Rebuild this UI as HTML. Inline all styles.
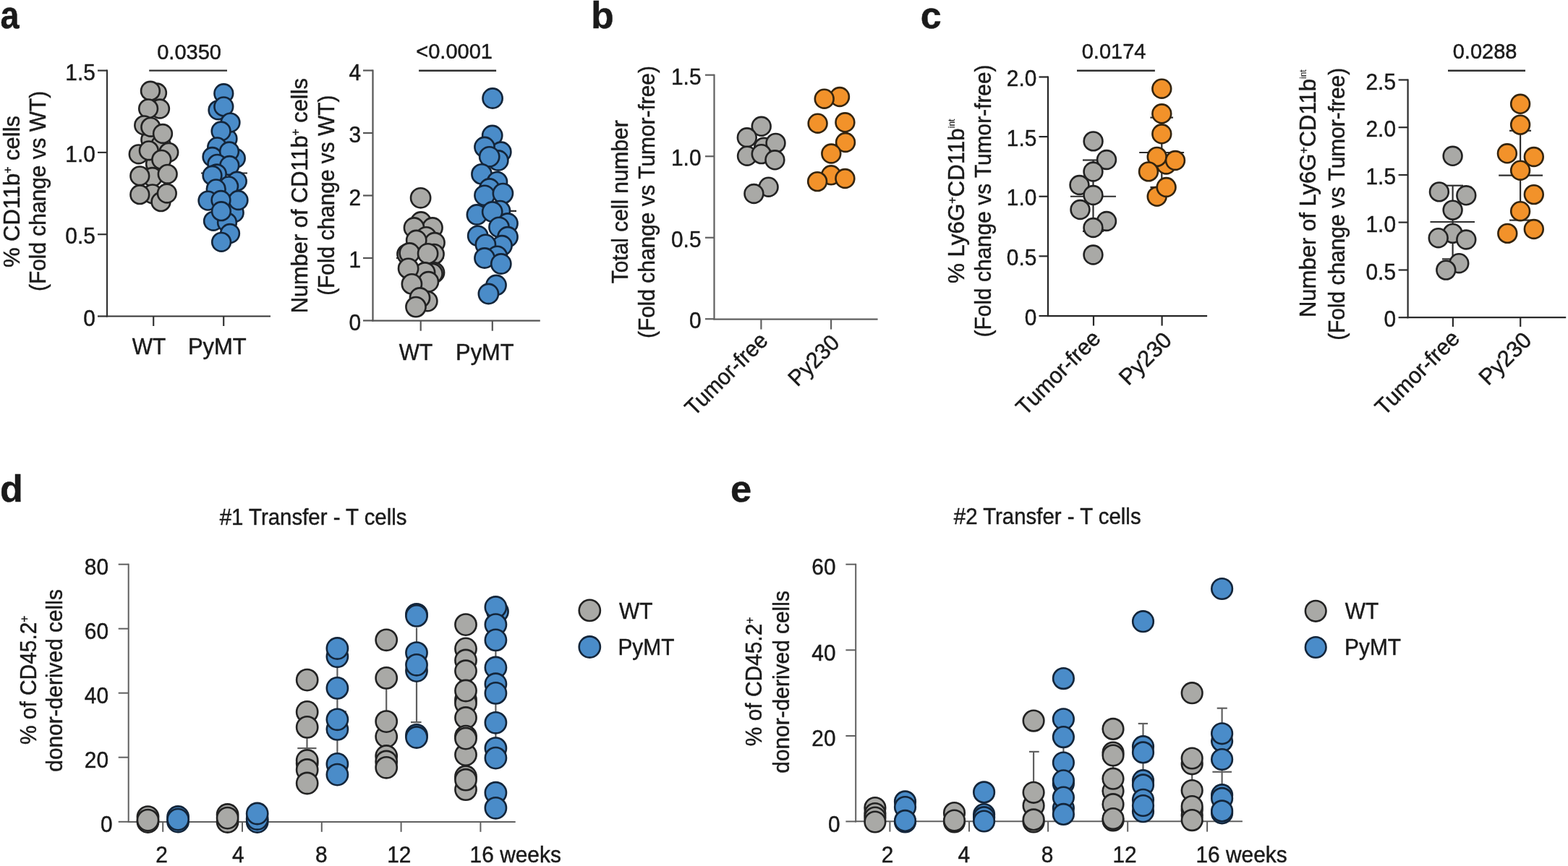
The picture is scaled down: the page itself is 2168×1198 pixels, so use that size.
<!DOCTYPE html>
<html><head><meta charset="utf-8"><title>Figure</title>
<style>
html,body{margin:0;padding:0;background:#fff;}
body{width:2168px;height:1198px;overflow:hidden;}
svg{display:block;}
text{font-family:"Liberation Sans", Arial, Helvetica, sans-serif;fill:#1a1a1a;stroke:#1a1a1a;stroke-width:0.45px;}
</style></head>
<body>
<svg width="2168" height="1198" viewBox="0 0 2168 1198">
<rect width="2168" height="1198" fill="#ffffff"/>
<text transform="translate(0.60,39.20) scale(0.92,1.0)" text-anchor="start" font-size="51" font-weight="bold">a</text>
<text transform="translate(817.30,39.00)" text-anchor="start" font-size="51.5" font-weight="bold">b</text>
<text transform="translate(1272.70,39.30)" text-anchor="start" font-size="52" font-weight="bold">c</text>
<text transform="translate(-0.10,694.40)" text-anchor="start" font-size="52" font-weight="bold">d</text>
<text transform="translate(1009.90,694.40)" text-anchor="start" font-size="52.5" font-weight="bold">e</text>
<line x1="148.00" y1="96.50" x2="148.00" y2="438.60" stroke="#333333" stroke-width="2.2"/>
<line x1="135.00" y1="97.60" x2="148.00" y2="97.60" stroke="#333333" stroke-width="2.2"/>
<text transform="translate(131.80,110.60) scale(0.955,1.0)" text-anchor="end" font-size="31.3">1.5</text>
<line x1="135.00" y1="210.90" x2="148.00" y2="210.90" stroke="#333333" stroke-width="2.2"/>
<text transform="translate(131.80,223.90) scale(0.955,1.0)" text-anchor="end" font-size="31.3">1.0</text>
<line x1="135.00" y1="324.20" x2="148.00" y2="324.20" stroke="#333333" stroke-width="2.2"/>
<text transform="translate(131.80,337.20) scale(0.955,1.0)" text-anchor="end" font-size="31.3">0.5</text>
<line x1="135.00" y1="437.50" x2="148.00" y2="437.50" stroke="#333333" stroke-width="2.2"/>
<text transform="translate(131.80,450.50) scale(0.955,1.0)" text-anchor="end" font-size="31.3">0</text>
<line x1="146.90" y1="437.50" x2="374.00" y2="437.50" stroke="#333333" stroke-width="2.2"/>
<line x1="212.20" y1="437.50" x2="212.20" y2="451.00" stroke="#333333" stroke-width="2.2"/>
<line x1="309.20" y1="437.50" x2="309.20" y2="451.00" stroke="#333333" stroke-width="2.2"/>
<text transform="translate(205.90,490.00) scale(0.955,1.0)" text-anchor="middle" font-size="31.3">WT</text>
<text transform="translate(300.30,490.00) scale(0.99,1.0)" text-anchor="middle" font-size="31.3">PyMT</text>
<line x1="206.20" y1="97.60" x2="314.00" y2="97.60" stroke="#2e2e2e" stroke-width="2.4"/>
<text transform="translate(261.60,81.70) scale(0.975,1.0)" text-anchor="middle" font-size="29.8">0.0350</text>
<text transform="translate(27.00,265.00) rotate(-90) scale(0.99,1.0)" text-anchor="middle" font-size="31.3">% CD11b<tspan font-size="16" dy="-11.3">+</tspan><tspan dy="11.3"> cells</tspan></text>
<text transform="translate(63.10,264.40) rotate(-90) scale(0.955,1.0)" text-anchor="middle" font-size="31.3">(Fold change vs WT)</text>
<line x1="183.00" y1="210.90" x2="242.00" y2="210.90" stroke="#2e2e2e" stroke-width="2.2"/>
<circle cx="208.3" cy="193.3" r="12.85" fill="#a9a9a6" stroke="#222222" stroke-width="2.6"/>
<circle cx="222.5" cy="200.0" r="12.85" fill="#a9a9a6" stroke="#222222" stroke-width="2.6"/>
<circle cx="215.0" cy="226.7" r="12.85" fill="#a9a9a6" stroke="#222222" stroke-width="2.6"/>
<circle cx="210.8" cy="245.0" r="12.85" fill="#a9a9a6" stroke="#222222" stroke-width="2.6"/>
<circle cx="210.8" cy="268.3" r="12.85" fill="#a9a9a6" stroke="#222222" stroke-width="2.6"/>
<circle cx="222.5" cy="279.2" r="12.85" fill="#a9a9a6" stroke="#222222" stroke-width="2.6"/>
<circle cx="217.0" cy="128.5" r="12.85" fill="#a9a9a6" stroke="#222222" stroke-width="2.6"/>
<circle cx="207.9" cy="125.7" r="12.85" fill="#a9a9a6" stroke="#222222" stroke-width="2.6"/>
<circle cx="221.0" cy="150.5" r="12.85" fill="#a9a9a6" stroke="#222222" stroke-width="2.6"/>
<circle cx="205.1" cy="150.3" r="12.85" fill="#a9a9a6" stroke="#222222" stroke-width="2.6"/>
<circle cx="199.2" cy="173.3" r="12.85" fill="#a9a9a6" stroke="#222222" stroke-width="2.6"/>
<circle cx="208.3" cy="175.8" r="12.85" fill="#a9a9a6" stroke="#222222" stroke-width="2.6"/>
<circle cx="225.0" cy="185.0" r="12.85" fill="#a9a9a6" stroke="#222222" stroke-width="2.6"/>
<circle cx="191.7" cy="213.3" r="12.85" fill="#a9a9a6" stroke="#222222" stroke-width="2.6"/>
<circle cx="205.8" cy="208.3" r="12.85" fill="#a9a9a6" stroke="#222222" stroke-width="2.6"/>
<circle cx="233.3" cy="210.8" r="12.85" fill="#a9a9a6" stroke="#222222" stroke-width="2.6"/>
<circle cx="223.3" cy="220.8" r="12.85" fill="#a9a9a6" stroke="#222222" stroke-width="2.6"/>
<circle cx="193.3" cy="243.3" r="12.85" fill="#a9a9a6" stroke="#222222" stroke-width="2.6"/>
<circle cx="231.7" cy="240.8" r="12.85" fill="#a9a9a6" stroke="#222222" stroke-width="2.6"/>
<circle cx="193.3" cy="269.2" r="12.85" fill="#a9a9a6" stroke="#222222" stroke-width="2.6"/>
<circle cx="230.8" cy="267.5" r="12.85" fill="#a9a9a6" stroke="#222222" stroke-width="2.6"/>
<line x1="278.00" y1="239.50" x2="342.00" y2="239.50" stroke="#2e2e2e" stroke-width="2.2"/>
<circle cx="314.5" cy="192.0" r="12.85" fill="#4a8cc9" stroke="#13253a" stroke-width="2.6"/>
<circle cx="325.8" cy="219.0" r="12.85" fill="#4a8cc9" stroke="#13253a" stroke-width="2.6"/>
<circle cx="323.7" cy="294.3" r="12.85" fill="#4a8cc9" stroke="#13253a" stroke-width="2.6"/>
<circle cx="309.3" cy="129.2" r="12.85" fill="#4a8cc9" stroke="#13253a" stroke-width="2.6"/>
<circle cx="301.5" cy="152.3" r="12.85" fill="#4a8cc9" stroke="#13253a" stroke-width="2.6"/>
<circle cx="309.3" cy="147.4" r="12.85" fill="#4a8cc9" stroke="#13253a" stroke-width="2.6"/>
<circle cx="318.5" cy="169.6" r="12.85" fill="#4a8cc9" stroke="#13253a" stroke-width="2.6"/>
<circle cx="305.6" cy="181.5" r="12.85" fill="#4a8cc9" stroke="#13253a" stroke-width="2.6"/>
<circle cx="300.2" cy="203.4" r="12.85" fill="#4a8cc9" stroke="#13253a" stroke-width="2.6"/>
<circle cx="293.5" cy="217.0" r="12.85" fill="#4a8cc9" stroke="#13253a" stroke-width="2.6"/>
<circle cx="317.0" cy="209.5" r="12.85" fill="#4a8cc9" stroke="#13253a" stroke-width="2.6"/>
<circle cx="300.4" cy="226.8" r="12.85" fill="#4a8cc9" stroke="#13253a" stroke-width="2.6"/>
<circle cx="317.3" cy="229.0" r="12.85" fill="#4a8cc9" stroke="#13253a" stroke-width="2.6"/>
<circle cx="299.8" cy="240.5" r="12.85" fill="#4a8cc9" stroke="#13253a" stroke-width="2.6"/>
<circle cx="293.5" cy="242.7" r="12.85" fill="#4a8cc9" stroke="#13253a" stroke-width="2.6"/>
<circle cx="327.8" cy="250.7" r="12.85" fill="#4a8cc9" stroke="#13253a" stroke-width="2.6"/>
<circle cx="316.1" cy="257.4" r="12.85" fill="#4a8cc9" stroke="#13253a" stroke-width="2.6"/>
<circle cx="298.7" cy="261.4" r="12.85" fill="#4a8cc9" stroke="#13253a" stroke-width="2.6"/>
<circle cx="287.5" cy="277.6" r="12.85" fill="#4a8cc9" stroke="#13253a" stroke-width="2.6"/>
<circle cx="329.5" cy="277.0" r="12.85" fill="#4a8cc9" stroke="#13253a" stroke-width="2.6"/>
<circle cx="305.5" cy="277.0" r="12.85" fill="#4a8cc9" stroke="#13253a" stroke-width="2.6"/>
<circle cx="295.0" cy="305.8" r="12.85" fill="#4a8cc9" stroke="#13253a" stroke-width="2.6"/>
<circle cx="314.0" cy="307.7" r="12.85" fill="#4a8cc9" stroke="#13253a" stroke-width="2.6"/>
<circle cx="305.9" cy="292.2" r="12.85" fill="#4a8cc9" stroke="#13253a" stroke-width="2.6"/>
<circle cx="318.0" cy="323.0" r="12.85" fill="#4a8cc9" stroke="#13253a" stroke-width="2.6"/>
<circle cx="306.1" cy="334.8" r="12.85" fill="#4a8cc9" stroke="#13253a" stroke-width="2.6"/>
<line x1="515.50" y1="96.40" x2="515.50" y2="444.60" stroke="#555555" stroke-width="2.2"/>
<line x1="502.00" y1="97.50" x2="515.50" y2="97.50" stroke="#555555" stroke-width="2.2"/>
<text transform="translate(499.10,110.50) scale(0.955,1.0)" text-anchor="end" font-size="31.3">4</text>
<line x1="502.00" y1="184.00" x2="515.50" y2="184.00" stroke="#555555" stroke-width="2.2"/>
<text transform="translate(499.10,197.00) scale(0.955,1.0)" text-anchor="end" font-size="31.3">3</text>
<line x1="502.00" y1="270.50" x2="515.50" y2="270.50" stroke="#555555" stroke-width="2.2"/>
<text transform="translate(499.10,283.50) scale(0.955,1.0)" text-anchor="end" font-size="31.3">2</text>
<line x1="502.00" y1="357.00" x2="515.50" y2="357.00" stroke="#555555" stroke-width="2.2"/>
<text transform="translate(499.10,370.00) scale(0.955,1.0)" text-anchor="end" font-size="31.3">1</text>
<line x1="502.00" y1="443.50" x2="515.50" y2="443.50" stroke="#555555" stroke-width="2.2"/>
<text transform="translate(499.10,456.50) scale(0.955,1.0)" text-anchor="end" font-size="31.3">0</text>
<line x1="514.40" y1="443.70" x2="746.80" y2="443.70" stroke="#555555" stroke-width="2.2"/>
<line x1="581.70" y1="443.70" x2="581.70" y2="457.70" stroke="#555555" stroke-width="2.2"/>
<line x1="680.80" y1="443.70" x2="680.80" y2="457.70" stroke="#555555" stroke-width="2.2"/>
<text transform="translate(575.00,498.40) scale(0.955,1.0)" text-anchor="middle" font-size="31.3">WT</text>
<text transform="translate(670.30,498.40) scale(0.985,1.0)" text-anchor="middle" font-size="31.3">PyMT</text>
<line x1="579.10" y1="97.70" x2="686.10" y2="97.70" stroke="#2e2e2e" stroke-width="2.4"/>
<text transform="translate(628.10,81.20) scale(0.975,1.0)" text-anchor="middle" font-size="29.8">&lt;0.0001</text>
<text transform="translate(425.40,270.70) rotate(-90) scale(0.984,1.0)" text-anchor="middle" font-size="31.3">Number of CD11b<tspan font-size="16" dy="-11.3">+</tspan><tspan dy="11.3"> cells</tspan></text>
<text transform="translate(461.80,270.20) rotate(-90) scale(0.955,1.0)" text-anchor="middle" font-size="31.3">(Fold change vs WT)</text>
<line x1="548.00" y1="357.00" x2="614.00" y2="357.00" stroke="#2e2e2e" stroke-width="2.2"/>
<circle cx="581.6" cy="273.8" r="13.6" fill="#a9a9a6" stroke="#222222" stroke-width="2.6"/>
<circle cx="582.0" cy="307.0" r="13.6" fill="#a9a9a6" stroke="#222222" stroke-width="2.6"/>
<circle cx="598.0" cy="315.0" r="13.6" fill="#a9a9a6" stroke="#222222" stroke-width="2.6"/>
<circle cx="572.5" cy="315.0" r="13.6" fill="#a9a9a6" stroke="#222222" stroke-width="2.6"/>
<circle cx="589.2" cy="327.8" r="13.6" fill="#a9a9a6" stroke="#222222" stroke-width="2.6"/>
<circle cx="601.0" cy="335.7" r="13.6" fill="#a9a9a6" stroke="#222222" stroke-width="2.6"/>
<circle cx="575.7" cy="332.5" r="13.6" fill="#a9a9a6" stroke="#222222" stroke-width="2.6"/>
<circle cx="563.0" cy="351.6" r="13.6" fill="#a9a9a6" stroke="#222222" stroke-width="2.6"/>
<circle cx="566.2" cy="350.0" r="13.6" fill="#a9a9a6" stroke="#222222" stroke-width="2.6"/>
<circle cx="600.0" cy="351.6" r="13.6" fill="#a9a9a6" stroke="#222222" stroke-width="2.6"/>
<circle cx="591.6" cy="350.8" r="13.6" fill="#a9a9a6" stroke="#222222" stroke-width="2.6"/>
<circle cx="600.5" cy="377.0" r="13.6" fill="#a9a9a6" stroke="#222222" stroke-width="2.6"/>
<circle cx="598.0" cy="378.6" r="13.6" fill="#a9a9a6" stroke="#222222" stroke-width="2.6"/>
<circle cx="587.6" cy="377.0" r="13.6" fill="#a9a9a6" stroke="#222222" stroke-width="2.6"/>
<circle cx="564.6" cy="371.4" r="13.6" fill="#a9a9a6" stroke="#222222" stroke-width="2.6"/>
<circle cx="592.4" cy="389.7" r="13.6" fill="#a9a9a6" stroke="#222222" stroke-width="2.6"/>
<circle cx="569.4" cy="392.9" r="13.6" fill="#a9a9a6" stroke="#222222" stroke-width="2.6"/>
<circle cx="590.8" cy="416.7" r="13.6" fill="#a9a9a6" stroke="#222222" stroke-width="2.6"/>
<circle cx="580.5" cy="412.0" r="13.6" fill="#a9a9a6" stroke="#222222" stroke-width="2.6"/>
<circle cx="575.0" cy="424.6" r="13.6" fill="#a9a9a6" stroke="#222222" stroke-width="2.6"/>
<line x1="648.00" y1="291.80" x2="714.00" y2="291.80" stroke="#2e2e2e" stroke-width="2.2"/>
<circle cx="681.1" cy="136.0" r="13.6" fill="#4a8cc9" stroke="#13253a" stroke-width="2.6"/>
<circle cx="680.7" cy="187.5" r="13.6" fill="#4a8cc9" stroke="#13253a" stroke-width="2.6"/>
<circle cx="692.8" cy="210.2" r="13.6" fill="#4a8cc9" stroke="#13253a" stroke-width="2.6"/>
<circle cx="670.0" cy="203.5" r="13.6" fill="#4a8cc9" stroke="#13253a" stroke-width="2.6"/>
<circle cx="688.8" cy="222.0" r="13.6" fill="#4a8cc9" stroke="#13253a" stroke-width="2.6"/>
<circle cx="676.7" cy="216.8" r="13.6" fill="#4a8cc9" stroke="#13253a" stroke-width="2.6"/>
<circle cx="666.0" cy="240.9" r="13.6" fill="#4a8cc9" stroke="#13253a" stroke-width="2.6"/>
<circle cx="687.4" cy="251.6" r="13.6" fill="#4a8cc9" stroke="#13253a" stroke-width="2.6"/>
<circle cx="676.7" cy="261.0" r="13.6" fill="#4a8cc9" stroke="#13253a" stroke-width="2.6"/>
<circle cx="670.0" cy="270.3" r="13.6" fill="#4a8cc9" stroke="#13253a" stroke-width="2.6"/>
<circle cx="695.4" cy="267.6" r="13.6" fill="#4a8cc9" stroke="#13253a" stroke-width="2.6"/>
<circle cx="691.4" cy="291.6" r="13.6" fill="#4a8cc9" stroke="#13253a" stroke-width="2.6"/>
<circle cx="659.4" cy="297.0" r="13.6" fill="#4a8cc9" stroke="#13253a" stroke-width="2.6"/>
<circle cx="680.7" cy="293.0" r="13.6" fill="#4a8cc9" stroke="#13253a" stroke-width="2.6"/>
<circle cx="702.0" cy="309.0" r="13.6" fill="#4a8cc9" stroke="#13253a" stroke-width="2.6"/>
<circle cx="690.0" cy="314.3" r="13.6" fill="#4a8cc9" stroke="#13253a" stroke-width="2.6"/>
<circle cx="702.0" cy="327.7" r="13.6" fill="#4a8cc9" stroke="#13253a" stroke-width="2.6"/>
<circle cx="660.7" cy="326.3" r="13.6" fill="#4a8cc9" stroke="#13253a" stroke-width="2.6"/>
<circle cx="694.0" cy="339.7" r="13.6" fill="#4a8cc9" stroke="#13253a" stroke-width="2.6"/>
<circle cx="671.4" cy="338.4" r="13.6" fill="#4a8cc9" stroke="#13253a" stroke-width="2.6"/>
<circle cx="687.4" cy="354.4" r="13.6" fill="#4a8cc9" stroke="#13253a" stroke-width="2.6"/>
<circle cx="670.0" cy="357.0" r="13.6" fill="#4a8cc9" stroke="#13253a" stroke-width="2.6"/>
<circle cx="692.8" cy="365.0" r="13.6" fill="#4a8cc9" stroke="#13253a" stroke-width="2.6"/>
<circle cx="686.0" cy="394.5" r="13.6" fill="#4a8cc9" stroke="#13253a" stroke-width="2.6"/>
<circle cx="675.4" cy="406.5" r="13.6" fill="#4a8cc9" stroke="#13253a" stroke-width="2.6"/>
<line x1="987.50" y1="102.65" x2="987.50" y2="442.35" stroke="#606060" stroke-width="2.2"/>
<line x1="975.00" y1="103.75" x2="987.50" y2="103.75" stroke="#606060" stroke-width="2.2"/>
<text transform="translate(969.50,116.65) scale(0.955,1.0)" text-anchor="end" font-size="31.3">1.5</text>
<line x1="975.00" y1="216.25" x2="987.50" y2="216.25" stroke="#606060" stroke-width="2.2"/>
<text transform="translate(969.50,229.15) scale(0.955,1.0)" text-anchor="end" font-size="31.3">1.0</text>
<line x1="975.00" y1="328.75" x2="987.50" y2="328.75" stroke="#606060" stroke-width="2.2"/>
<text transform="translate(969.50,341.65) scale(0.955,1.0)" text-anchor="end" font-size="31.3">0.5</text>
<line x1="975.00" y1="441.25" x2="987.50" y2="441.25" stroke="#606060" stroke-width="2.2"/>
<text transform="translate(969.50,454.15) scale(0.955,1.0)" text-anchor="end" font-size="31.3">0</text>
<line x1="986.40" y1="441.60" x2="1213.60" y2="441.60" stroke="#606060" stroke-width="2.2"/>
<line x1="1052.40" y1="441.60" x2="1052.40" y2="455.60" stroke="#606060" stroke-width="2.2"/>
<line x1="1149.10" y1="441.60" x2="1149.10" y2="455.60" stroke="#606060" stroke-width="2.2"/>
<text transform="translate(1063.50,473.00) rotate(-45) scale(0.955,1.0)" text-anchor="end" font-size="31.3">Tumor-free</text>
<text transform="translate(1162.50,476.00) rotate(-45) scale(0.955,1.0)" text-anchor="end" font-size="31.3">Py230</text>
<text transform="translate(868.40,279.30) rotate(-90) scale(0.955,1.0)" text-anchor="middle" font-size="31.3">Total cell number</text>
<text transform="translate(904.70,279.55) rotate(-90) scale(0.955,1.0)" text-anchor="middle" font-size="31.3">(Fold change vs Tumor-free)</text>
<circle cx="1056.2" cy="203.8" r="12.9" fill="#a9a9a6" stroke="#222222" stroke-width="2.6"/>
<circle cx="1052.7" cy="174.8" r="12.9" fill="#a9a9a6" stroke="#222222" stroke-width="2.6"/>
<circle cx="1032.8" cy="190.3" r="12.9" fill="#a9a9a6" stroke="#222222" stroke-width="2.6"/>
<circle cx="1072.5" cy="197.9" r="12.9" fill="#a9a9a6" stroke="#222222" stroke-width="2.6"/>
<circle cx="1033.0" cy="215.7" r="12.9" fill="#a9a9a6" stroke="#222222" stroke-width="2.6"/>
<circle cx="1052.7" cy="213.1" r="12.9" fill="#a9a9a6" stroke="#222222" stroke-width="2.6"/>
<circle cx="1071.4" cy="221.3" r="12.9" fill="#a9a9a6" stroke="#222222" stroke-width="2.6"/>
<circle cx="1062.6" cy="258.7" r="12.9" fill="#a9a9a6" stroke="#222222" stroke-width="2.6"/>
<circle cx="1042.4" cy="268.0" r="12.9" fill="#a9a9a6" stroke="#222222" stroke-width="2.6"/>
<circle cx="1161.0" cy="134.0" r="12.9" fill="#f2922a" stroke="#33240f" stroke-width="2.6"/>
<circle cx="1139.7" cy="136.7" r="12.9" fill="#f2922a" stroke="#33240f" stroke-width="2.6"/>
<circle cx="1130.6" cy="170.7" r="12.9" fill="#f2922a" stroke="#33240f" stroke-width="2.6"/>
<circle cx="1168.4" cy="169.3" r="12.9" fill="#f2922a" stroke="#33240f" stroke-width="2.6"/>
<circle cx="1169.0" cy="197.0" r="12.9" fill="#f2922a" stroke="#33240f" stroke-width="2.6"/>
<circle cx="1149.1" cy="242.3" r="12.9" fill="#f2922a" stroke="#33240f" stroke-width="2.6"/>
<circle cx="1149.3" cy="212.5" r="12.9" fill="#f2922a" stroke="#33240f" stroke-width="2.6"/>
<circle cx="1130.1" cy="251.1" r="12.9" fill="#f2922a" stroke="#33240f" stroke-width="2.6"/>
<circle cx="1168.4" cy="247.0" r="12.9" fill="#f2922a" stroke="#33240f" stroke-width="2.6"/>
<line x1="1449.00" y1="105.40" x2="1449.00" y2="438.10" stroke="#262626" stroke-width="2.2"/>
<line x1="1436.50" y1="106.50" x2="1449.00" y2="106.50" stroke="#262626" stroke-width="2.2"/>
<text transform="translate(1433.40,119.20) scale(0.955,1.0)" text-anchor="end" font-size="31.3">2.0</text>
<line x1="1436.50" y1="189.10" x2="1449.00" y2="189.10" stroke="#262626" stroke-width="2.2"/>
<text transform="translate(1433.40,201.80) scale(0.955,1.0)" text-anchor="end" font-size="31.3">1.5</text>
<line x1="1436.50" y1="271.75" x2="1449.00" y2="271.75" stroke="#262626" stroke-width="2.2"/>
<text transform="translate(1433.40,284.45) scale(0.955,1.0)" text-anchor="end" font-size="31.3">1.0</text>
<line x1="1436.50" y1="354.40" x2="1449.00" y2="354.40" stroke="#262626" stroke-width="2.2"/>
<text transform="translate(1433.40,367.10) scale(0.955,1.0)" text-anchor="end" font-size="31.3">0.5</text>
<line x1="1436.50" y1="437.00" x2="1449.00" y2="437.00" stroke="#262626" stroke-width="2.2"/>
<text transform="translate(1433.40,449.70) scale(0.955,1.0)" text-anchor="end" font-size="31.3">0</text>
<line x1="1447.90" y1="437.20" x2="1669.10" y2="437.20" stroke="#262626" stroke-width="2.2"/>
<line x1="1512.00" y1="437.20" x2="1512.00" y2="450.60" stroke="#262626" stroke-width="2.2"/>
<line x1="1606.60" y1="437.20" x2="1606.60" y2="450.60" stroke="#262626" stroke-width="2.2"/>
<text transform="translate(1523.50,470.00) rotate(-45) scale(0.975,1.0)" text-anchor="end" font-size="31.3">Tumor-free</text>
<text transform="translate(1622.00,472.50) rotate(-45) scale(0.99,1.0)" text-anchor="end" font-size="31.3">Py230</text>
<line x1="1489.00" y1="97.70" x2="1596.90" y2="97.70" stroke="#2e2e2e" stroke-width="2.4"/>
<text transform="translate(1540.10,81.20) scale(0.975,1.0)" text-anchor="middle" font-size="29.8">0.0174</text>
<text transform="translate(1333.20,278.25) rotate(-90)" text-anchor="middle" font-size="31.3">% Ly6G<tspan font-size="16" dy="-11.3">+</tspan><tspan dy="11.3">CD11b</tspan><tspan font-size="12" dy="-13.5" stroke-width="0.15">int</tspan></text>
<text transform="translate(1370.30,277.95) rotate(-90) scale(0.955,1.0)" text-anchor="middle" font-size="31.3">(Fold change vs Tumor-free)</text>
<line x1="1480.00" y1="271.75" x2="1543.00" y2="271.75" stroke="#2e2e2e" stroke-width="2.2"/>
<line x1="1511.50" y1="221.50" x2="1511.50" y2="320.00" stroke="#2e2e2e" stroke-width="2.2"/>
<line x1="1497.00" y1="221.50" x2="1526.00" y2="221.50" stroke="#2e2e2e" stroke-width="2.2"/>
<line x1="1497.00" y1="320.00" x2="1526.00" y2="320.00" stroke="#2e2e2e" stroke-width="2.2"/>
<circle cx="1511.6" cy="195.4" r="12.9" fill="#a9a9a6" stroke="#222222" stroke-width="2.6"/>
<circle cx="1530.0" cy="221.0" r="12.9" fill="#a9a9a6" stroke="#222222" stroke-width="2.6"/>
<circle cx="1511.5" cy="237.5" r="12.9" fill="#a9a9a6" stroke="#222222" stroke-width="2.6"/>
<circle cx="1492.5" cy="256.0" r="12.9" fill="#a9a9a6" stroke="#222222" stroke-width="2.6"/>
<circle cx="1511.5" cy="270.0" r="12.9" fill="#a9a9a6" stroke="#222222" stroke-width="2.6"/>
<circle cx="1493.5" cy="290.0" r="12.9" fill="#a9a9a6" stroke="#222222" stroke-width="2.6"/>
<circle cx="1530.0" cy="306.0" r="12.9" fill="#a9a9a6" stroke="#222222" stroke-width="2.6"/>
<circle cx="1511.5" cy="315.0" r="12.9" fill="#a9a9a6" stroke="#222222" stroke-width="2.6"/>
<circle cx="1511.5" cy="352.5" r="12.9" fill="#a9a9a6" stroke="#222222" stroke-width="2.6"/>
<line x1="1575.20" y1="211.00" x2="1637.10" y2="211.00" stroke="#2e2e2e" stroke-width="2.2"/>
<line x1="1606.30" y1="162.60" x2="1606.30" y2="259.00" stroke="#2e2e2e" stroke-width="2.2"/>
<line x1="1590.40" y1="162.60" x2="1622.00" y2="162.60" stroke="#2e2e2e" stroke-width="2.2"/>
<line x1="1590.40" y1="259.00" x2="1622.00" y2="259.00" stroke="#2e2e2e" stroke-width="2.2"/>
<circle cx="1606.3" cy="122.7" r="12.9" fill="#f2922a" stroke="#33240f" stroke-width="2.6"/>
<circle cx="1606.3" cy="157.3" r="12.9" fill="#f2922a" stroke="#33240f" stroke-width="2.6"/>
<circle cx="1606.3" cy="185.3" r="12.9" fill="#f2922a" stroke="#33240f" stroke-width="2.6"/>
<circle cx="1612.5" cy="227.5" r="12.9" fill="#f2922a" stroke="#33240f" stroke-width="2.6"/>
<circle cx="1599.7" cy="216.9" r="12.9" fill="#f2922a" stroke="#33240f" stroke-width="2.6"/>
<circle cx="1625.0" cy="222.0" r="12.9" fill="#f2922a" stroke="#33240f" stroke-width="2.6"/>
<circle cx="1588.0" cy="237.4" r="12.9" fill="#f2922a" stroke="#33240f" stroke-width="2.6"/>
<circle cx="1599.7" cy="271.8" r="12.9" fill="#f2922a" stroke="#33240f" stroke-width="2.6"/>
<circle cx="1612.6" cy="259.0" r="12.9" fill="#f2922a" stroke="#33240f" stroke-width="2.6"/>
<line x1="1946.60" y1="109.40" x2="1946.60" y2="440.30" stroke="#2a2a2a" stroke-width="2.2"/>
<line x1="1933.60" y1="110.50" x2="1946.60" y2="110.50" stroke="#2a2a2a" stroke-width="2.2"/>
<text transform="translate(1930.00,123.70) scale(0.955,1.0)" text-anchor="end" font-size="31.3">2.5</text>
<line x1="1933.60" y1="176.20" x2="1946.60" y2="176.20" stroke="#2a2a2a" stroke-width="2.2"/>
<text transform="translate(1930.00,189.40) scale(0.955,1.0)" text-anchor="end" font-size="31.3">2.0</text>
<line x1="1933.60" y1="242.00" x2="1946.60" y2="242.00" stroke="#2a2a2a" stroke-width="2.2"/>
<text transform="translate(1930.00,255.20) scale(0.955,1.0)" text-anchor="end" font-size="31.3">1.5</text>
<line x1="1933.60" y1="307.60" x2="1946.60" y2="307.60" stroke="#2a2a2a" stroke-width="2.2"/>
<text transform="translate(1930.00,320.80) scale(0.955,1.0)" text-anchor="end" font-size="31.3">1.0</text>
<line x1="1933.60" y1="373.50" x2="1946.60" y2="373.50" stroke="#2a2a2a" stroke-width="2.2"/>
<text transform="translate(1930.00,386.70) scale(0.955,1.0)" text-anchor="end" font-size="31.3">0.5</text>
<line x1="1933.60" y1="439.20" x2="1946.60" y2="439.20" stroke="#2a2a2a" stroke-width="2.2"/>
<text transform="translate(1930.00,452.40) scale(0.955,1.0)" text-anchor="end" font-size="31.3">0</text>
<line x1="1945.50" y1="439.10" x2="2165.20" y2="439.10" stroke="#2a2a2a" stroke-width="2.2"/>
<line x1="2008.90" y1="439.10" x2="2008.90" y2="452.00" stroke="#2a2a2a" stroke-width="2.2"/>
<line x1="2102.20" y1="439.10" x2="2102.20" y2="452.00" stroke="#2a2a2a" stroke-width="2.2"/>
<text transform="translate(2020.00,470.00) rotate(-45) scale(0.975,1.0)" text-anchor="end" font-size="31.3">Tumor-free</text>
<text transform="translate(2119.50,472.50) rotate(-45) scale(0.99,1.0)" text-anchor="end" font-size="31.3">Py230</text>
<line x1="2002.00" y1="97.70" x2="2109.00" y2="97.70" stroke="#2e2e2e" stroke-width="2.4"/>
<text transform="translate(2053.10,81.20) scale(0.975,1.0)" text-anchor="middle" font-size="29.8">0.0288</text>
<text transform="translate(1819.30,267.75) rotate(-90) scale(0.992,1.0)" text-anchor="middle" font-size="31.3">Number of Ly6G<tspan font-size="16" dy="-11.3">+</tspan><tspan dy="11.3">CD11b</tspan><tspan font-size="12" dy="-13.5" stroke-width="0.15">int</tspan></text>
<text transform="translate(1859.40,282.35) rotate(-90) scale(0.955,1.0)" text-anchor="middle" font-size="31.3">(Fold change vs Tumor-free)</text>
<line x1="1977.50" y1="307.00" x2="2039.00" y2="307.00" stroke="#2e2e2e" stroke-width="2.2"/>
<line x1="2008.60" y1="256.70" x2="2008.60" y2="358.40" stroke="#2e2e2e" stroke-width="2.2"/>
<line x1="1994.00" y1="256.70" x2="2023.00" y2="256.70" stroke="#2e2e2e" stroke-width="2.2"/>
<line x1="1994.00" y1="358.40" x2="2023.00" y2="358.40" stroke="#2e2e2e" stroke-width="2.2"/>
<circle cx="2008.6" cy="215.8" r="12.9" fill="#a9a9a6" stroke="#222222" stroke-width="2.6"/>
<circle cx="1989.9" cy="265.4" r="12.9" fill="#a9a9a6" stroke="#222222" stroke-width="2.6"/>
<circle cx="2027.3" cy="270.3" r="12.9" fill="#a9a9a6" stroke="#222222" stroke-width="2.6"/>
<circle cx="2008.6" cy="290.6" r="12.9" fill="#a9a9a6" stroke="#222222" stroke-width="2.6"/>
<circle cx="2008.6" cy="322.9" r="12.9" fill="#a9a9a6" stroke="#222222" stroke-width="2.6"/>
<circle cx="1988.7" cy="329.2" r="12.9" fill="#a9a9a6" stroke="#222222" stroke-width="2.6"/>
<circle cx="2027.3" cy="331.5" r="12.9" fill="#a9a9a6" stroke="#222222" stroke-width="2.6"/>
<circle cx="2017.3" cy="364.2" r="12.9" fill="#a9a9a6" stroke="#222222" stroke-width="2.6"/>
<circle cx="1999.3" cy="373.6" r="12.9" fill="#a9a9a6" stroke="#222222" stroke-width="2.6"/>
<line x1="2072.20" y1="242.70" x2="2133.00" y2="242.70" stroke="#2e2e2e" stroke-width="2.2"/>
<line x1="2102.10" y1="180.80" x2="2102.10" y2="304.60" stroke="#2e2e2e" stroke-width="2.2"/>
<line x1="2087.00" y1="180.80" x2="2117.00" y2="180.80" stroke="#2e2e2e" stroke-width="2.2"/>
<line x1="2087.00" y1="304.60" x2="2117.00" y2="304.60" stroke="#2e2e2e" stroke-width="2.2"/>
<circle cx="2102.1" cy="143.8" r="12.9" fill="#f2922a" stroke="#33240f" stroke-width="2.6"/>
<circle cx="2102.1" cy="172.6" r="12.9" fill="#f2922a" stroke="#33240f" stroke-width="2.6"/>
<circle cx="2083.9" cy="212.3" r="12.9" fill="#f2922a" stroke="#33240f" stroke-width="2.6"/>
<circle cx="2120.8" cy="217.0" r="12.9" fill="#f2922a" stroke="#33240f" stroke-width="2.6"/>
<circle cx="2102.1" cy="235.7" r="12.9" fill="#f2922a" stroke="#33240f" stroke-width="2.6"/>
<circle cx="2120.8" cy="269.1" r="12.9" fill="#f2922a" stroke="#33240f" stroke-width="2.6"/>
<circle cx="2102.1" cy="292.2" r="12.9" fill="#f2922a" stroke="#33240f" stroke-width="2.6"/>
<circle cx="2084.3" cy="322.9" r="12.9" fill="#f2922a" stroke="#33240f" stroke-width="2.6"/>
<circle cx="2120.8" cy="317.0" r="12.9" fill="#f2922a" stroke="#33240f" stroke-width="2.6"/>
<line x1="177.70" y1="779.70" x2="177.70" y2="1137.80" stroke="#606060" stroke-width="2.0"/>
<line x1="163.70" y1="780.70" x2="177.70" y2="780.70" stroke="#606060" stroke-width="2.0"/>
<text transform="translate(150.10,794.50) scale(0.955,1.0)" text-anchor="end" font-size="31.3">80</text>
<line x1="163.70" y1="869.70" x2="177.70" y2="869.70" stroke="#606060" stroke-width="2.0"/>
<text transform="translate(150.10,883.50) scale(0.955,1.0)" text-anchor="end" font-size="31.3">60</text>
<line x1="163.70" y1="958.70" x2="177.70" y2="958.70" stroke="#606060" stroke-width="2.0"/>
<text transform="translate(150.10,972.50) scale(0.955,1.0)" text-anchor="end" font-size="31.3">40</text>
<line x1="163.70" y1="1047.70" x2="177.70" y2="1047.70" stroke="#606060" stroke-width="2.0"/>
<text transform="translate(150.10,1061.50) scale(0.955,1.0)" text-anchor="end" font-size="31.3">20</text>
<line x1="163.70" y1="1136.80" x2="177.70" y2="1136.80" stroke="#606060" stroke-width="2.0"/>
<text transform="translate(155.70,1151.00) scale(0.955,1.0)" text-anchor="end" font-size="31.3">0</text>
<line x1="176.70" y1="1137.00" x2="712.70" y2="1137.00" stroke="#606060" stroke-width="2.0"/>
<line x1="225.20" y1="1137.00" x2="225.20" y2="1150.80" stroke="#606060" stroke-width="2.0"/>
<line x1="335.00" y1="1137.00" x2="335.00" y2="1150.80" stroke="#606060" stroke-width="2.0"/>
<line x1="444.80" y1="1137.00" x2="444.80" y2="1150.80" stroke="#606060" stroke-width="2.0"/>
<line x1="554.60" y1="1137.00" x2="554.60" y2="1150.80" stroke="#606060" stroke-width="2.0"/>
<line x1="664.40" y1="1137.00" x2="664.40" y2="1150.80" stroke="#606060" stroke-width="2.0"/>
<text transform="translate(223.50,1193.00) scale(0.955,1.0)" text-anchor="middle" font-size="31.3">2</text>
<text transform="translate(329.30,1193.00) scale(0.955,1.0)" text-anchor="middle" font-size="31.3">4</text>
<text transform="translate(444.30,1193.00) scale(0.955,1.0)" text-anchor="middle" font-size="31.3">8</text>
<text transform="translate(551.80,1193.00) scale(0.955,1.0)" text-anchor="middle" font-size="31.3">12</text>
<text transform="translate(649.60,1193.00) scale(0.955,1.0)" text-anchor="start" font-size="31.3">16 weeks</text>
<text transform="translate(433.10,726.00) scale(0.94,1.0)" text-anchor="middle" font-size="31.3">#1 Transfer - T cells</text>
<text transform="translate(50.20,940.90) rotate(-90) scale(0.955,1.0)" text-anchor="middle" font-size="31.3">% of CD45.2<tspan font-size="16" dy="-11.3">+</tspan><tspan dy="11.3"></tspan></text>
<text transform="translate(86.30,941.40) rotate(-90) scale(0.955,1.0)" text-anchor="middle" font-size="31.3">donor-derived cells</text>
<circle cx="815.3" cy="844.4" r="14.6" fill="#a9a9a6" stroke="#222222" stroke-width="2.6"/>
<circle cx="815.3" cy="895.0" r="14.6" fill="#4a8cc9" stroke="#13253a" stroke-width="2.6"/>
<text transform="translate(856.00,855.60) scale(0.955,1.0)" text-anchor="start" font-size="31.3">WT</text>
<text transform="translate(854.40,905.60) scale(0.955,1.0)" text-anchor="start" font-size="31.3">PyMT</text>
<circle cx="204.5" cy="1137.0" r="14.6" fill="#a9a9a6" stroke="#222222" stroke-width="2.6"/>
<circle cx="204.5" cy="1130.1" r="14.6" fill="#a9a9a6" stroke="#222222" stroke-width="2.6"/>
<circle cx="204.5" cy="1134.6" r="14.6" fill="#a9a9a6" stroke="#222222" stroke-width="2.6"/>
<circle cx="246.1" cy="1136.5" r="14.6" fill="#4a8cc9" stroke="#13253a" stroke-width="2.6"/>
<circle cx="246.1" cy="1130.0" r="14.6" fill="#4a8cc9" stroke="#13253a" stroke-width="2.6"/>
<circle cx="246.1" cy="1133.6" r="14.6" fill="#4a8cc9" stroke="#13253a" stroke-width="2.6"/>
<circle cx="314.6" cy="1127.0" r="14.6" fill="#a9a9a6" stroke="#222222" stroke-width="2.6"/>
<circle cx="314.6" cy="1137.0" r="14.6" fill="#a9a9a6" stroke="#222222" stroke-width="2.6"/>
<circle cx="314.6" cy="1131.6" r="14.6" fill="#a9a9a6" stroke="#222222" stroke-width="2.6"/>
<circle cx="355.7" cy="1137.0" r="14.6" fill="#4a8cc9" stroke="#13253a" stroke-width="2.6"/>
<circle cx="355.7" cy="1133.0" r="14.6" fill="#4a8cc9" stroke="#13253a" stroke-width="2.6"/>
<circle cx="355.7" cy="1125.5" r="14.6" fill="#4a8cc9" stroke="#13253a" stroke-width="2.6"/>
<line x1="424.50" y1="1035.00" x2="424.50" y2="995.00" stroke="#606060" stroke-width="2.2"/>
<circle cx="424.7" cy="940.6" r="14.6" fill="#a9a9a6" stroke="#222222" stroke-width="2.6"/>
<circle cx="424.7" cy="984.9" r="14.6" fill="#a9a9a6" stroke="#222222" stroke-width="2.6"/>
<circle cx="424.7" cy="1005.9" r="14.6" fill="#a9a9a6" stroke="#222222" stroke-width="2.6"/>
<circle cx="424.7" cy="1056.0" r="14.6" fill="#a9a9a6" stroke="#222222" stroke-width="2.6"/>
<circle cx="424.7" cy="1052.0" r="14.6" fill="#a9a9a6" stroke="#222222" stroke-width="2.6"/>
<circle cx="424.7" cy="1065.0" r="14.6" fill="#a9a9a6" stroke="#222222" stroke-width="2.6"/>
<circle cx="424.7" cy="1083.5" r="14.6" fill="#a9a9a6" stroke="#222222" stroke-width="2.6"/>
<line x1="411.30" y1="1035.10" x2="437.50" y2="1035.10" stroke="#606060" stroke-width="2.2"/>
<line x1="466.40" y1="908.00" x2="466.40" y2="1071.00" stroke="#606060" stroke-width="2.2"/>
<line x1="455.00" y1="984.40" x2="479.00" y2="984.40" stroke="#606060" stroke-width="2.2"/>
<circle cx="466.4" cy="908.3" r="14.6" fill="#4a8cc9" stroke="#13253a" stroke-width="2.6"/>
<circle cx="466.4" cy="897.0" r="14.6" fill="#4a8cc9" stroke="#13253a" stroke-width="2.6"/>
<circle cx="466.4" cy="951.9" r="14.6" fill="#4a8cc9" stroke="#13253a" stroke-width="2.6"/>
<circle cx="466.4" cy="1008.9" r="14.6" fill="#4a8cc9" stroke="#13253a" stroke-width="2.6"/>
<circle cx="466.4" cy="995.3" r="14.6" fill="#4a8cc9" stroke="#13253a" stroke-width="2.6"/>
<circle cx="466.4" cy="1056.9" r="14.6" fill="#4a8cc9" stroke="#13253a" stroke-width="2.6"/>
<circle cx="466.4" cy="1071.6" r="14.6" fill="#4a8cc9" stroke="#13253a" stroke-width="2.6"/>
<line x1="534.20" y1="950.00" x2="534.20" y2="1020.00" stroke="#606060" stroke-width="2.2"/>
<circle cx="534.2" cy="885.3" r="14.6" fill="#a9a9a6" stroke="#222222" stroke-width="2.6"/>
<circle cx="534.2" cy="937.9" r="14.6" fill="#a9a9a6" stroke="#222222" stroke-width="2.6"/>
<circle cx="534.2" cy="1019.0" r="14.6" fill="#a9a9a6" stroke="#222222" stroke-width="2.6"/>
<circle cx="534.2" cy="998.1" r="14.6" fill="#a9a9a6" stroke="#222222" stroke-width="2.6"/>
<circle cx="534.2" cy="1046.0" r="14.6" fill="#a9a9a6" stroke="#222222" stroke-width="2.6"/>
<circle cx="534.2" cy="1053.5" r="14.6" fill="#a9a9a6" stroke="#222222" stroke-width="2.6"/>
<circle cx="534.2" cy="1061.8" r="14.6" fill="#a9a9a6" stroke="#222222" stroke-width="2.6"/>
<line x1="576.00" y1="868.40" x2="576.00" y2="999.10" stroke="#606060" stroke-width="2.2"/>
<line x1="568.00" y1="999.10" x2="582.60" y2="999.10" stroke="#606060" stroke-width="2.2"/>
<circle cx="576.0" cy="849.8" r="14.6" fill="#4a8cc9" stroke="#13253a" stroke-width="2.6"/>
<circle cx="576.0" cy="851.9" r="14.6" fill="#4a8cc9" stroke="#13253a" stroke-width="2.6"/>
<circle cx="576.0" cy="928.1" r="14.6" fill="#4a8cc9" stroke="#13253a" stroke-width="2.6"/>
<circle cx="576.0" cy="903.1" r="14.6" fill="#4a8cc9" stroke="#13253a" stroke-width="2.6"/>
<circle cx="576.0" cy="919.8" r="14.6" fill="#4a8cc9" stroke="#13253a" stroke-width="2.6"/>
<circle cx="576.0" cy="1016.9" r="14.6" fill="#4a8cc9" stroke="#13253a" stroke-width="2.6"/>
<circle cx="576.0" cy="1020.0" r="14.6" fill="#4a8cc9" stroke="#13253a" stroke-width="2.6"/>
<circle cx="644.0" cy="864.1" r="14.6" fill="#a9a9a6" stroke="#222222" stroke-width="2.6"/>
<circle cx="644.0" cy="897.4" r="14.6" fill="#a9a9a6" stroke="#222222" stroke-width="2.6"/>
<circle cx="644.0" cy="913.5" r="14.6" fill="#a9a9a6" stroke="#222222" stroke-width="2.6"/>
<circle cx="644.0" cy="928.2" r="14.6" fill="#a9a9a6" stroke="#222222" stroke-width="2.6"/>
<circle cx="644.0" cy="968.0" r="14.6" fill="#a9a9a6" stroke="#222222" stroke-width="2.6"/>
<circle cx="644.0" cy="973.0" r="14.6" fill="#a9a9a6" stroke="#222222" stroke-width="2.6"/>
<circle cx="644.0" cy="955.5" r="14.6" fill="#a9a9a6" stroke="#222222" stroke-width="2.6"/>
<circle cx="644.0" cy="993.0" r="14.6" fill="#a9a9a6" stroke="#222222" stroke-width="2.6"/>
<circle cx="644.0" cy="1044.1" r="14.6" fill="#a9a9a6" stroke="#222222" stroke-width="2.6"/>
<circle cx="644.0" cy="1018.6" r="14.6" fill="#a9a9a6" stroke="#222222" stroke-width="2.6"/>
<circle cx="644.0" cy="1021.6" r="14.6" fill="#a9a9a6" stroke="#222222" stroke-width="2.6"/>
<circle cx="644.0" cy="1092.2" r="14.6" fill="#a9a9a6" stroke="#222222" stroke-width="2.6"/>
<circle cx="644.0" cy="1074.2" r="14.6" fill="#a9a9a6" stroke="#222222" stroke-width="2.6"/>
<circle cx="644.0" cy="1078.7" r="14.6" fill="#a9a9a6" stroke="#222222" stroke-width="2.6"/>
<line x1="685.40" y1="850.00" x2="685.40" y2="1050.00" stroke="#606060" stroke-width="2.2"/>
<circle cx="688.0" cy="846.0" r="14.6" fill="#4a8cc9" stroke="#13253a" stroke-width="2.6"/>
<circle cx="685.4" cy="840.0" r="14.6" fill="#4a8cc9" stroke="#13253a" stroke-width="2.6"/>
<circle cx="685.4" cy="864.1" r="14.6" fill="#4a8cc9" stroke="#13253a" stroke-width="2.6"/>
<circle cx="685.4" cy="885.4" r="14.6" fill="#4a8cc9" stroke="#13253a" stroke-width="2.6"/>
<circle cx="685.4" cy="923.5" r="14.6" fill="#4a8cc9" stroke="#13253a" stroke-width="2.6"/>
<circle cx="685.4" cy="946.2" r="14.6" fill="#4a8cc9" stroke="#13253a" stroke-width="2.6"/>
<circle cx="685.4" cy="958.9" r="14.6" fill="#4a8cc9" stroke="#13253a" stroke-width="2.6"/>
<circle cx="685.4" cy="999.8" r="14.6" fill="#4a8cc9" stroke="#13253a" stroke-width="2.6"/>
<circle cx="685.4" cy="1035.1" r="14.6" fill="#4a8cc9" stroke="#13253a" stroke-width="2.6"/>
<circle cx="685.4" cy="1048.6" r="14.6" fill="#4a8cc9" stroke="#13253a" stroke-width="2.6"/>
<circle cx="685.4" cy="1096.7" r="14.6" fill="#4a8cc9" stroke="#13253a" stroke-width="2.6"/>
<circle cx="685.4" cy="1117.8" r="14.6" fill="#4a8cc9" stroke="#13253a" stroke-width="2.6"/>
<line x1="1183.20" y1="779.70" x2="1183.20" y2="1137.40" stroke="#606060" stroke-width="2.0"/>
<line x1="1169.40" y1="780.70" x2="1183.20" y2="780.70" stroke="#606060" stroke-width="2.0"/>
<text transform="translate(1155.50,794.90) scale(0.955,1.0)" text-anchor="end" font-size="31.3">60</text>
<line x1="1169.40" y1="899.30" x2="1183.20" y2="899.30" stroke="#606060" stroke-width="2.0"/>
<text transform="translate(1155.50,913.50) scale(0.955,1.0)" text-anchor="end" font-size="31.3">40</text>
<line x1="1169.40" y1="1018.00" x2="1183.20" y2="1018.00" stroke="#606060" stroke-width="2.0"/>
<text transform="translate(1155.50,1032.20) scale(0.955,1.0)" text-anchor="end" font-size="31.3">20</text>
<line x1="1169.40" y1="1136.40" x2="1183.20" y2="1136.40" stroke="#606060" stroke-width="2.0"/>
<text transform="translate(1161.50,1150.90) scale(0.955,1.0)" text-anchor="end" font-size="31.3">0</text>
<line x1="1182.20" y1="1136.20" x2="1717.90" y2="1136.20" stroke="#606060" stroke-width="2.0"/>
<line x1="1230.40" y1="1136.20" x2="1230.40" y2="1150.60" stroke="#606060" stroke-width="2.0"/>
<line x1="1340.00" y1="1136.20" x2="1340.00" y2="1150.60" stroke="#606060" stroke-width="2.0"/>
<line x1="1449.10" y1="1136.20" x2="1449.10" y2="1150.60" stroke="#606060" stroke-width="2.0"/>
<line x1="1559.20" y1="1136.20" x2="1559.20" y2="1150.60" stroke="#606060" stroke-width="2.0"/>
<line x1="1669.10" y1="1136.20" x2="1669.10" y2="1150.60" stroke="#606060" stroke-width="2.0"/>
<text transform="translate(1227.00,1193.20) scale(0.955,1.0)" text-anchor="middle" font-size="31.3">2</text>
<text transform="translate(1332.80,1193.20) scale(0.955,1.0)" text-anchor="middle" font-size="31.3">4</text>
<text transform="translate(1448.00,1193.20) scale(0.955,1.0)" text-anchor="middle" font-size="31.3">8</text>
<text transform="translate(1555.00,1193.20) scale(0.955,1.0)" text-anchor="middle" font-size="31.3">12</text>
<text transform="translate(1653.50,1193.20) scale(0.955,1.0)" text-anchor="start" font-size="31.3">16 weeks</text>
<text transform="translate(1448.20,725.20) scale(0.94,1.0)" text-anchor="middle" font-size="31.3">#2 Transfer - T cells</text>
<text transform="translate(1053.30,943.00) rotate(-90) scale(0.955,1.0)" text-anchor="middle" font-size="31.3">% of CD45.2<tspan font-size="16" dy="-11.3">+</tspan><tspan dy="11.3"></tspan></text>
<text transform="translate(1090.60,943.40) rotate(-90) scale(0.955,1.0)" text-anchor="middle" font-size="31.3">donor-derived cells</text>
<circle cx="1819.2" cy="845.3" r="14.3" fill="#a9a9a6" stroke="#222222" stroke-width="2.6"/>
<circle cx="1819.2" cy="895.5" r="14.3" fill="#4a8cc9" stroke="#13253a" stroke-width="2.6"/>
<text transform="translate(1859.70,855.60) scale(0.955,1.0)" text-anchor="start" font-size="31.3">WT</text>
<text transform="translate(1859.10,905.50) scale(0.955,1.0)" text-anchor="start" font-size="31.3">PyMT</text>
<circle cx="1209.9" cy="1117.5" r="14.3" fill="#a9a9a6" stroke="#222222" stroke-width="2.6"/>
<circle cx="1209.9" cy="1125.6" r="14.3" fill="#a9a9a6" stroke="#222222" stroke-width="2.6"/>
<circle cx="1209.9" cy="1131.0" r="14.3" fill="#a9a9a6" stroke="#222222" stroke-width="2.6"/>
<circle cx="1209.9" cy="1137.0" r="14.3" fill="#a9a9a6" stroke="#222222" stroke-width="2.6"/>
<circle cx="1251.5" cy="1108.9" r="14.3" fill="#4a8cc9" stroke="#13253a" stroke-width="2.6"/>
<circle cx="1251.5" cy="1116.5" r="14.3" fill="#4a8cc9" stroke="#13253a" stroke-width="2.6"/>
<circle cx="1251.5" cy="1137.0" r="14.3" fill="#4a8cc9" stroke="#13253a" stroke-width="2.6"/>
<circle cx="1251.5" cy="1135.4" r="14.3" fill="#4a8cc9" stroke="#13253a" stroke-width="2.6"/>
<circle cx="1319.5" cy="1124.6" r="14.3" fill="#a9a9a6" stroke="#222222" stroke-width="2.6"/>
<circle cx="1319.5" cy="1137.0" r="14.3" fill="#a9a9a6" stroke="#222222" stroke-width="2.6"/>
<circle cx="1319.5" cy="1135.0" r="14.3" fill="#a9a9a6" stroke="#222222" stroke-width="2.6"/>
<circle cx="1360.6" cy="1095.9" r="14.3" fill="#4a8cc9" stroke="#13253a" stroke-width="2.6"/>
<circle cx="1360.6" cy="1126.6" r="14.3" fill="#4a8cc9" stroke="#13253a" stroke-width="2.6"/>
<circle cx="1360.6" cy="1130.7" r="14.3" fill="#4a8cc9" stroke="#13253a" stroke-width="2.6"/>
<circle cx="1360.6" cy="1136.0" r="14.3" fill="#4a8cc9" stroke="#13253a" stroke-width="2.6"/>
<line x1="1429.10" y1="1039.90" x2="1429.10" y2="1090.00" stroke="#606060" stroke-width="2.2"/>
<line x1="1423.00" y1="1039.90" x2="1436.70" y2="1039.90" stroke="#606060" stroke-width="2.2"/>
<circle cx="1429.1" cy="997.1" r="14.3" fill="#a9a9a6" stroke="#222222" stroke-width="2.6"/>
<circle cx="1429.1" cy="1114.4" r="14.3" fill="#a9a9a6" stroke="#222222" stroke-width="2.6"/>
<circle cx="1429.1" cy="1096.3" r="14.3" fill="#a9a9a6" stroke="#222222" stroke-width="2.6"/>
<circle cx="1429.1" cy="1137.0" r="14.3" fill="#a9a9a6" stroke="#222222" stroke-width="2.6"/>
<circle cx="1429.1" cy="1133.9" r="14.3" fill="#a9a9a6" stroke="#222222" stroke-width="2.6"/>
<line x1="1470.40" y1="1000.00" x2="1470.40" y2="1120.00" stroke="#606060" stroke-width="2.2"/>
<circle cx="1470.4" cy="938.6" r="14.3" fill="#4a8cc9" stroke="#13253a" stroke-width="2.6"/>
<circle cx="1470.4" cy="994.8" r="14.3" fill="#4a8cc9" stroke="#13253a" stroke-width="2.6"/>
<circle cx="1470.4" cy="1019.6" r="14.3" fill="#4a8cc9" stroke="#13253a" stroke-width="2.6"/>
<circle cx="1470.4" cy="1055.0" r="14.3" fill="#4a8cc9" stroke="#13253a" stroke-width="2.6"/>
<circle cx="1470.4" cy="1084.0" r="14.3" fill="#4a8cc9" stroke="#13253a" stroke-width="2.6"/>
<circle cx="1470.4" cy="1079.8" r="14.3" fill="#4a8cc9" stroke="#13253a" stroke-width="2.6"/>
<circle cx="1470.4" cy="1118.0" r="14.3" fill="#4a8cc9" stroke="#13253a" stroke-width="2.6"/>
<circle cx="1470.4" cy="1103.1" r="14.3" fill="#4a8cc9" stroke="#13253a" stroke-width="2.6"/>
<circle cx="1470.4" cy="1126.4" r="14.3" fill="#4a8cc9" stroke="#13253a" stroke-width="2.6"/>
<line x1="1539.00" y1="1030.00" x2="1539.00" y2="1110.00" stroke="#606060" stroke-width="2.2"/>
<circle cx="1539.0" cy="1008.4" r="14.3" fill="#a9a9a6" stroke="#222222" stroke-width="2.6"/>
<circle cx="1539.0" cy="1041.0" r="14.3" fill="#a9a9a6" stroke="#222222" stroke-width="2.6"/>
<circle cx="1539.0" cy="1045.0" r="14.3" fill="#a9a9a6" stroke="#222222" stroke-width="2.6"/>
<circle cx="1539.0" cy="1094.3" r="14.3" fill="#a9a9a6" stroke="#222222" stroke-width="2.6"/>
<circle cx="1539.0" cy="1077.2" r="14.3" fill="#a9a9a6" stroke="#222222" stroke-width="2.6"/>
<circle cx="1539.0" cy="1112.7" r="14.3" fill="#a9a9a6" stroke="#222222" stroke-width="2.6"/>
<circle cx="1539.0" cy="1135.0" r="14.3" fill="#a9a9a6" stroke="#222222" stroke-width="2.6"/>
<circle cx="1539.0" cy="1132.6" r="14.3" fill="#a9a9a6" stroke="#222222" stroke-width="2.6"/>
<line x1="1580.50" y1="1001.00" x2="1580.50" y2="1100.00" stroke="#606060" stroke-width="2.2"/>
<line x1="1573.70" y1="1001.00" x2="1587.00" y2="1001.00" stroke="#606060" stroke-width="2.2"/>
<circle cx="1580.5" cy="859.7" r="14.3" fill="#4a8cc9" stroke="#13253a" stroke-width="2.6"/>
<circle cx="1580.5" cy="1032.7" r="14.3" fill="#4a8cc9" stroke="#13253a" stroke-width="2.6"/>
<circle cx="1580.5" cy="1040.9" r="14.3" fill="#4a8cc9" stroke="#13253a" stroke-width="2.6"/>
<circle cx="1580.5" cy="1079.7" r="14.3" fill="#4a8cc9" stroke="#13253a" stroke-width="2.6"/>
<circle cx="1580.5" cy="1085.9" r="14.3" fill="#4a8cc9" stroke="#13253a" stroke-width="2.6"/>
<circle cx="1580.5" cy="1106.3" r="14.3" fill="#4a8cc9" stroke="#13253a" stroke-width="2.6"/>
<circle cx="1580.5" cy="1122.7" r="14.3" fill="#4a8cc9" stroke="#13253a" stroke-width="2.6"/>
<circle cx="1580.5" cy="1114.5" r="14.3" fill="#4a8cc9" stroke="#13253a" stroke-width="2.6"/>
<line x1="1648.20" y1="1040.00" x2="1648.20" y2="1120.00" stroke="#606060" stroke-width="2.2"/>
<circle cx="1648.2" cy="958.7" r="14.3" fill="#a9a9a6" stroke="#222222" stroke-width="2.6"/>
<circle cx="1648.2" cy="1056.8" r="14.3" fill="#a9a9a6" stroke="#222222" stroke-width="2.6"/>
<circle cx="1648.2" cy="1049.0" r="14.3" fill="#a9a9a6" stroke="#222222" stroke-width="2.6"/>
<circle cx="1648.2" cy="1093.5" r="14.3" fill="#a9a9a6" stroke="#222222" stroke-width="2.6"/>
<circle cx="1648.2" cy="1120.3" r="14.3" fill="#a9a9a6" stroke="#222222" stroke-width="2.6"/>
<circle cx="1648.2" cy="1128.0" r="14.3" fill="#a9a9a6" stroke="#222222" stroke-width="2.6"/>
<circle cx="1648.2" cy="1115.6" r="14.3" fill="#a9a9a6" stroke="#222222" stroke-width="2.6"/>
<circle cx="1648.2" cy="1134.6" r="14.3" fill="#a9a9a6" stroke="#222222" stroke-width="2.6"/>
<line x1="1689.60" y1="979.70" x2="1689.60" y2="1100.00" stroke="#606060" stroke-width="2.2"/>
<line x1="1682.70" y1="979.70" x2="1696.80" y2="979.70" stroke="#606060" stroke-width="2.2"/>
<line x1="1676.40" y1="1067.80" x2="1703.00" y2="1067.80" stroke="#606060" stroke-width="2.2"/>
<circle cx="1689.6" cy="814.5" r="14.3" fill="#4a8cc9" stroke="#13253a" stroke-width="2.6"/>
<circle cx="1689.6" cy="1025.1" r="14.3" fill="#4a8cc9" stroke="#13253a" stroke-width="2.6"/>
<circle cx="1689.6" cy="1014.8" r="14.3" fill="#4a8cc9" stroke="#13253a" stroke-width="2.6"/>
<circle cx="1689.6" cy="1050.5" r="14.3" fill="#4a8cc9" stroke="#13253a" stroke-width="2.6"/>
<circle cx="1689.6" cy="1099.7" r="14.3" fill="#4a8cc9" stroke="#13253a" stroke-width="2.6"/>
<circle cx="1689.6" cy="1124.8" r="14.3" fill="#4a8cc9" stroke="#13253a" stroke-width="2.6"/>
<circle cx="1689.6" cy="1104.4" r="14.3" fill="#4a8cc9" stroke="#13253a" stroke-width="2.6"/>
<circle cx="1689.6" cy="1121.9" r="14.3" fill="#4a8cc9" stroke="#13253a" stroke-width="2.6"/>
</svg>
</body></html>
